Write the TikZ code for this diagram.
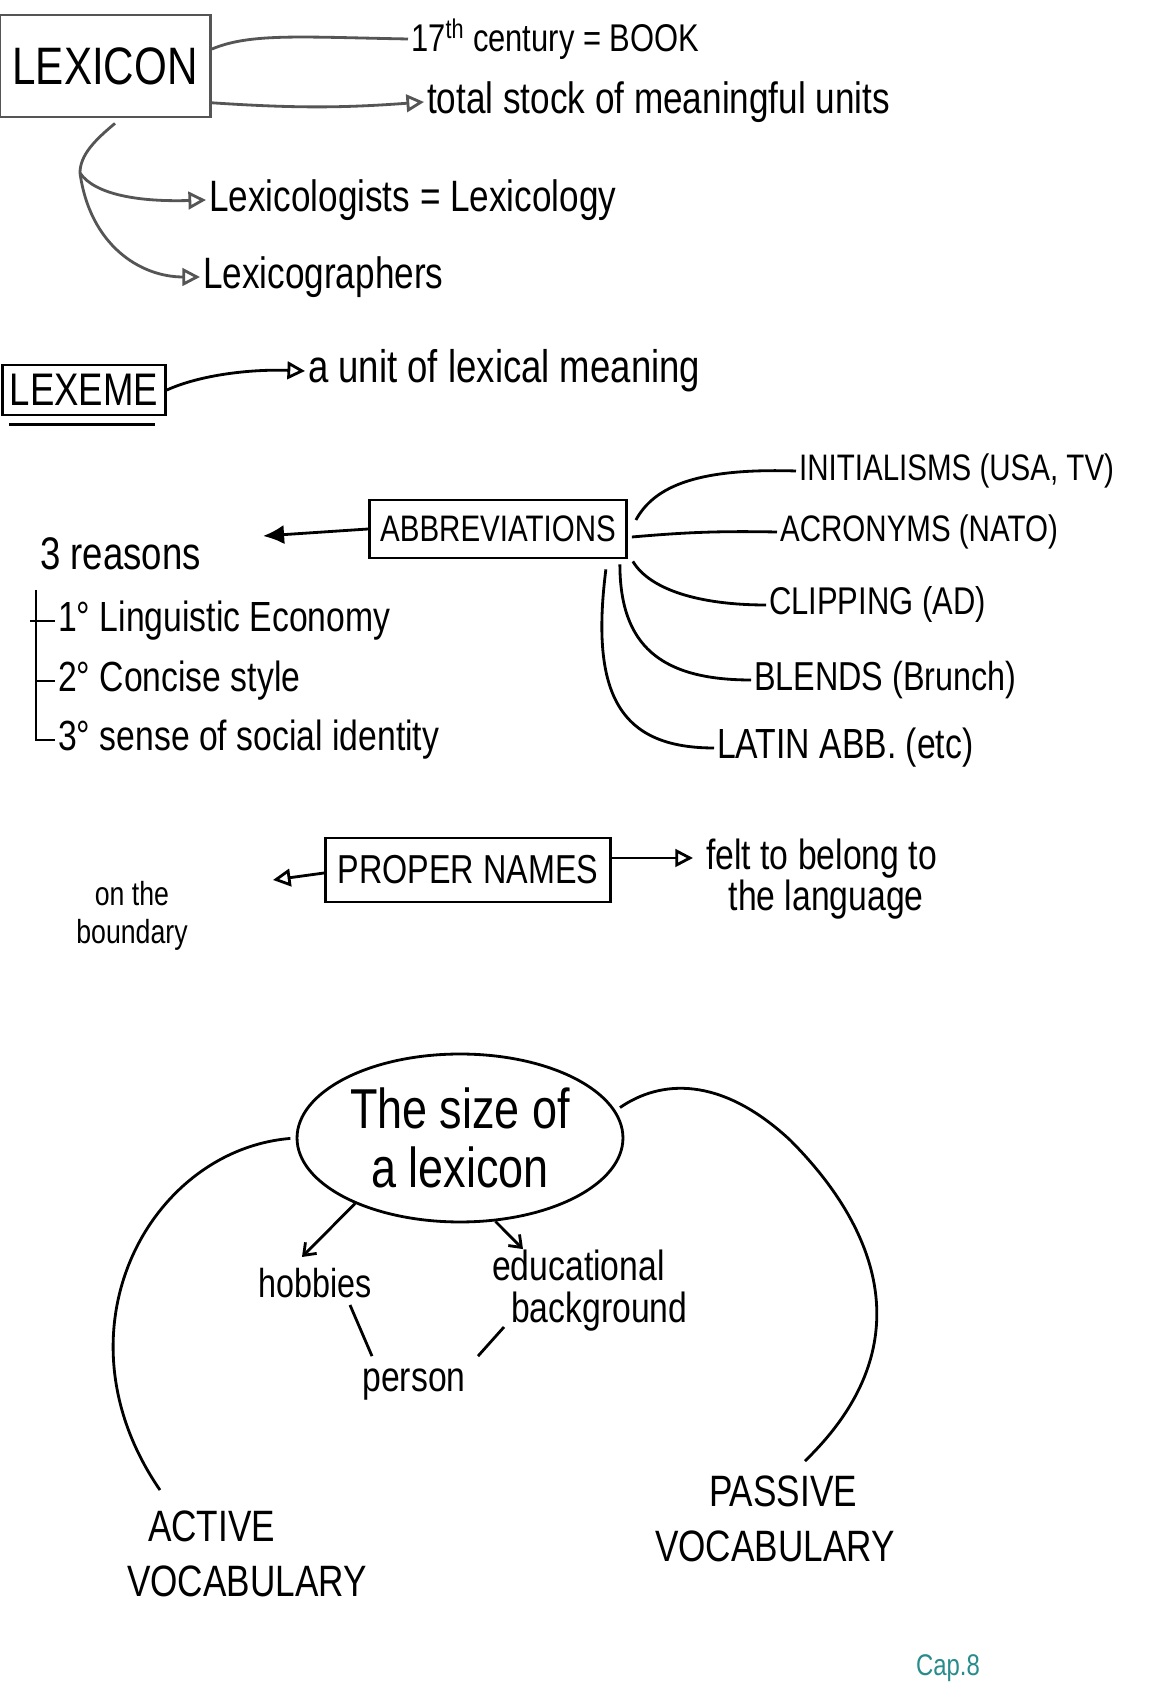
\documentclass[tikz,border=0pt]{standalone}
\usepackage{fontspec}
\setmainfont{Liberation Sans}[FakeStretch=0.8]
\usepackage{tikz}
\usetikzlibrary{arrows.meta,positioning,calc,shapes.geometric}
\definecolor{pencil}{RGB}{85,85,85}
\definecolor{capteal}{RGB}{40,140,140}

\begin{document}
\begin{tikzpicture}[
    x=0.02cm, y=0.02cm,
    line width=1.6pt,
    box/.style={rectangle, draw, line width=1.6pt, inner sep=2pt},
    txt/.style={inner sep=1pt, font=\fontsize{#1}{#1}\selectfont},
    tip/.style={-{Triangle[open,length=10pt,width=10pt]}}
]
    \useasboundingbox (0,0) rectangle (1171,1685);
    \fill[white] (0,0) rectangle (1171,1685);

    % lexicon
    \node[box, draw=pencil, minimum width=4.22cm, minimum height=2.04cm, font=\fontsize{30}{30}\selectfont] (lexicon) at (105,1619) {LEXICON};
    \node[txt=22, anchor=west] (century) at (408,1646) {17\textsuperscript{th} century = BOOK};
    \node[txt=25, anchor=west] (stock) at (424,1583) {total stock of meaningful units};
    \node[txt=25, anchor=west] (lexicologists) at (206,1485) {Lexicologists = Lexicology};
    \node[txt=25, anchor=west] (lexicographers) at (200,1408) {Lexicographers};
    \coordinate (fork) at (80,1512);

    \draw[pencil] (lexicon.9) .. controls (250,1652) and (300,1648) .. (century.west);
    \draw[pencil, tip] (lexicon.-19) to[bend right=4] (stock.west);
    \draw[pencil] ($(lexicon.south)+(10,-5)$) .. controls (95,1545) and (80,1530) .. (fork);
    \draw[pencil, tip] (fork) .. controls (95,1490) and (140,1483) .. (lexicologists.west);
    \draw[pencil, tip] (fork) .. controls (90,1440) and (140,1408) .. (lexicographers.west);

    % lexeme
    \node[box, minimum width=3.26cm, minimum height=1cm, font=\fontsize{26}{26}\selectfont] (lexeme) at (84,1295) {LEXEME};
    \node[txt=26, anchor=west] (unit) at (305,1314) {a unit of lexical meaning};
    \draw ($(lexeme.south west)+(8,-8)$) -- ($(lexeme.south east)+(-12,-8)$);
    \draw[tip] (lexeme.east) .. controls (200,1310) and (250,1316) .. (unit.west);

    % abbreviations
    \node[box, minimum width=5.14cm, minimum height=1.16cm, font=\fontsize{21}{21}\selectfont] (abbrev) at (498,1156) {ABBREVIATIONS};
    \coordinate (abbrevtip) at (263,1149);
    \draw[-{Latex[length=12pt,width=11pt]}] (abbrev.west) -- (abbrevtip);

    \node[txt=26, anchor=west] (reasons) at (37,1131) {3 reasons};
    \node[txt=24, anchor=west] (economy) at (55,1064) {1° Linguistic Economy};
    \node[txt=24, anchor=west] (concise) at (55,1004) {2° Concise style};
    \node[txt=24, anchor=west] (identity) at (55,945) {3° sense of social identity};
    \coordinate (brtop) at (36,1095);
    \draw (brtop) |- (identity.west);
    \draw ($(brtop |- economy.west)+(-6,0)$) -- (economy.west);
    \draw (brtop |- concise.west) -- (concise.west);

    \node[txt=21, anchor=west] (initialisms) at (796,1214) {INITIALISMS (USA, TV)};
    \node[txt=21, anchor=west] (acronyms) at (777,1153) {ACRONYMS (NATO)};
    \node[txt=22, anchor=west] (clipping) at (766,1080) {CLIPPING (AD)};
    \node[txt=23, anchor=west] (blends) at (751,1005) {BLENDS (Brunch)};
    \node[txt=24, anchor=west] (latin) at (714,937) {LATIN ABB. (etc)};

    \draw ($(abbrev.east)+(8,9)$) .. controls (655,1200) and (700,1217) .. (initialisms.west);
    \draw ($(abbrev.east)+(4,-8)$) to[bend left=3] (acronyms.west);
    \draw ($(abbrev.south east)+(5,-2)$) .. controls (650,1095) and (700,1080) .. (clipping.west);
    \draw ($(abbrev.south east)+(-8,-5)$) .. controls (620,1040) and (660,1005) .. (blends.west);
    \draw ($(abbrev.south east)+(-22,-10)$) .. controls (590,990) and (620,937) .. (latin.west);

    % proper names
    \node[box, minimum width=5.7cm, minimum height=1.28cm, font=\fontsize{23}{23}\selectfont] (proper) at (468,815) {PROPER NAMES};
    \node[anchor=west, align=left, inner sep=1pt, font=\fontsize{24}{23}\selectfont] (felt) at (703,806) {felt to belong to\\\hspace*{0.45cm}the language};
    \node[align=center, inner sep=1pt, font=\fontsize{19}{22}\selectfont] (boundary) at (132,769) {on the\\boundary};
    \coordinate (boundarytip) at (273,805);
    \draw[tip] ($(proper.west)+(0,-3)$) -- (boundarytip);
    \draw[tip] ($(proper.east)+(0,12)$) -- ($(felt.west)+(-10,21)$);

    % size of a lexicon
    \node[ellipse, draw, inner sep=0pt, minimum width=6.52cm, minimum height=3.36cm, align=center, font=\fontsize{32}{34}\selectfont] (size) at (460,547) {The size of\\a lexicon};
    \node[txt=23] (hobbies) at (315,402) {hobbies};
    \node[anchor=west, align=left, inner sep=1pt, font=\fontsize{24}{24}\selectfont] (educ) at (489,394) {educational\\\hspace*{0.38cm}background};
    \node[txt=24] (person) at (414,300) {person};

    \draw[-{Straight Barb[length=6pt,width=9pt]}] (size.212) -- ($(hobbies.north)+(-13,8)$);
    \draw[-{Straight Barb[length=6pt,width=9pt]}] (size.293) -- ($(educ.north west)+(34,-2)$);
    \draw ($(hobbies.south)+(35,-4)$) -- ($(person.north)+(-42,10)$);
    \draw ($(educ.west)+(15,-36)$) -- ($(person.north)+(64,10)$);

    \node[anchor=west, align=left, inner sep=1pt, font=\fontsize{25}{31}\selectfont] (active) at (124,131) {\hspace*{0.42cm}ACTIVE\\VOCABULARY};
    \node[anchor=west, align=left, inner sep=1pt, font=\fontsize{25}{31}\selectfont] (passive) at (652,166) {\hspace*{1.08cm}PASSIVE\\VOCABULARY};

    \draw[shorten <=3pt] (size.west) .. controls (150,535) and (50,355) .. ($(active.north west)+(36,18)$);
    \draw[shorten <=3pt] (size.10) .. controls (660,605) and (720,610) .. (790,545)
        .. controls (870,465) and (930,345) .. ($(passive.north)+(30,12)$);

    \node[txt=17, text=capteal] (chapter) at (948,17) {Cap.8};
\end{tikzpicture}
\end{document}
